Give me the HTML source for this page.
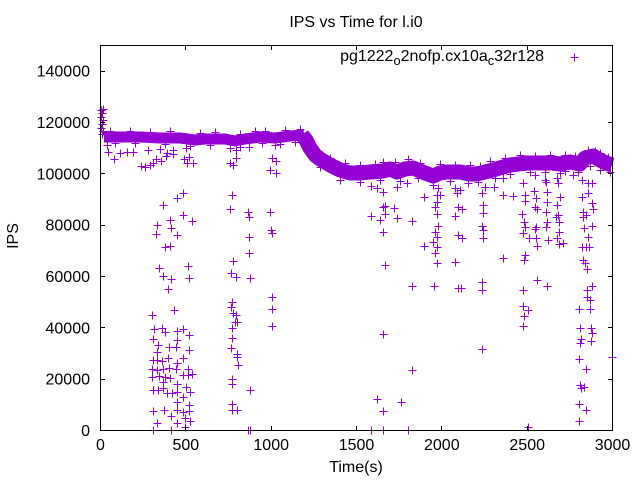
<!DOCTYPE html>
<html>
<head>
<meta charset="utf-8">
<style>
html,body{margin:0;padding:0;background:#fff;}
svg{display:block;}
text{font-family:"Liberation Sans",Arial,sans-serif;fill:#000;}
</style>
</head>
<body>
<svg width="640" height="480" viewBox="0 0 640 480" xmlns="http://www.w3.org/2000/svg">
<rect x="0" y="0" width="640" height="480" fill="#fff"/>

<!-- data band -->
<g fill="none" stroke="#9400d3" stroke-linejoin="round" stroke-linecap="butt">
<polyline stroke-width="11" points="104,137 120,137 140,137 160,138 180,138 195,140 205,139 225,139 235,141 245,139 260,137 275,138 290,136 304,135"/>
<polyline stroke-width="15" points="302,135 306,140 310,148 315,155 320,159 330,165 340,170 350,173 360,173 370,172 383,171 390,169 397,172 405,169 413,168 425,173 433,176 440,173 447,172 460,172 470,174 477,174 485,172 493,170 503,167 510,165 527,163 543,163 552,163 560,164 570,162 580,164 585,158 593,156 600,160 606,163 612,165"/>
</g>

<!-- markers -->
<path fill="none" stroke="#9400d3" stroke-width="1" shape-rendering="crispEdges" transform="translate(0.5,0.5)" d="
M97 110h8m-4-4v8 M99 109h8m-4-4v8 M98 113h8m-4-4v8 M97 117h8m-4-4v8 M99 120h8m-4-4v8 M98 124h8m-4-4v8 M97 128h8m-4-4v8 M99 131h8m-4-4v8 M98 134h8m-4-4v8
M103 145h8m-4-4v8 M104 152h8m-4-4v8 M110 159h8m-4-4v8 M116 153h8m-4-4v8 M123 152h8m-4-4v8 M129 152h8m-4-4v8 M137 166h8m-4-4v8 M141 167h8m-4-4v8 M146 165h8m-4-4v8 M149 163h8m-4-4v8 M152 159h8m-4-4v8 M157 161h8m-4-4v8 M156 149h8m-4-4v8 M162 156h8m-4-4v8 M163 153h8m-4-4v8 M169 154h8m-4-4v8 M169 150h8m-4-4v8 M180 159h8m-4-4v8 M185 157h8m-4-4v8 M183 163h8m-4-4v8 M189 163h8m-4-4v8 M182 148h8m-4-4v8 M144 150h8m-4-4v8
M226 148h8m-4-4v8 M232 150h8m-4-4v8 M232 158h8m-4-4v8 M226 163h8m-4-4v8 M229 165h8m-4-4v8 M245 147h8m-4-4v8 M268 158h8m-4-4v8 M272 161h8m-4-4v8 M266 170h8m-4-4v8 M272 173h8m-4-4v8 M271 145h8m-4-4v8
M179 193h8m-4-4v8 M173 198h8m-4-4v8 M159 205h8m-4-4v8 M179 215h8m-4-4v8 M166 220h8m-4-4v8 M188 221h8m-4-4v8 M153 225h8m-4-4v8 M167 228h8m-4-4v8 M152 234h8m-4-4v8 M173 235h8m-4-4v8 M161 247h8m-4-4v8 M166 246h8m-4-4v8 M155 268h8m-4-4v8 M184 266h8m-4-4v8 M159 276h8m-4-4v8 M167 279h8m-4-4v8 M185 278h8m-4-4v8
M228 195h8m-4-4v8 M226 209h8m-4-4v8 M244 212h8m-4-4v8 M245 217h8m-4-4v8 M266 212h8m-4-4v8 M267 230h8m-4-4v8 M268 233h8m-4-4v8 M245 237h8m-4-4v8 M245 253h8m-4-4v8 M229 261h8m-4-4v8 M227 273h8m-4-4v8 M232 277h8m-4-4v8 M246 278h8m-4-4v8
M164 289h8m-4-4v8 M148 315h8m-4-4v8 M170 310h8m-4-4v8 M150 329h8m-4-4v8 M158 328h8m-4-4v8 M161 332h8m-4-4v8 M173 331h8m-4-4v8 M179 329h8m-4-4v8 M185 335h8m-4-4v8 M149 339h8m-4-4v8 M154 345h8m-4-4v8 M165 347h8m-4-4v8 M172 347h8m-4-4v8 M173 340h8m-4-4v8 M185 350h8m-4-4v8 M179 358h8m-4-4v8 M153 352h8m-4-4v8 M149 360h8m-4-4v8 M153 360h8m-4-4v8 M158 361h8m-4-4v8 M164 358h8m-4-4v8 M173 363h8m-4-4v8
M148 369h8m-4-4v8 M153 370h8m-4-4v8 M159 369h8m-4-4v8 M165 368h8m-4-4v8 M172 369h8m-4-4v8 M184 369h8m-4-4v8 M148 377h8m-4-4v8 M155 376h8m-4-4v8 M161 377h8m-4-4v8 M166 378h8m-4-4v8 M179 375h8m-4-4v8 M184 375h8m-4-4v8 M188 374h8m-4-4v8 M159 382h8m-4-4v8 M173 384h8m-4-4v8
M149 390h8m-4-4v8 M154 390h8m-4-4v8 M159 388h8m-4-4v8 M163 393h8m-4-4v8 M168 393h8m-4-4v8 M173 392h8m-4-4v8 M182 387h8m-4-4v8 M186 392h8m-4-4v8 M179 397h8m-4-4v8 M173 402h8m-4-4v8 M185 405h8m-4-4v8 M149 411h8m-4-4v8 M160 410h8m-4-4v8 M173 410h8m-4-4v8 M179 412h8m-4-4v8 M185 411h8m-4-4v8 M167 416h8m-4-4v8 M181 418h8m-4-4v8 M153 423h8m-4-4v8 M173 423h8m-4-4v8 M186 421h8m-4-4v8 M181 427h8m-4-4v8 M149 430h8m-4-4v8 M167 430h8m-4-4v8
M228 302h8m-4-4v8 M227 307h8m-4-4v8 M229 313h8m-4-4v8 M232 315h8m-4-4v8 M231 322h8m-4-4v8 M233 322h8m-4-4v8 M228 328h8m-4-4v8 M228 338h8m-4-4v8 M227 348h8m-4-4v8 M233 354h8m-4-4v8 M233 357h8m-4-4v8 M234 365h8m-4-4v8 M228 379h8m-4-4v8 M228 384h8m-4-4v8 M246 390h8m-4-4v8 M228 404h8m-4-4v8 M228 410h8m-4-4v8 M233 410h8m-4-4v8 M244 430h8m-4-4v8 M246 430h8m-4-4v8 M268 297h8m-4-4v8 M268 309h8m-4-4v8 M268 326h8m-4-4v8
M367 186h8m-4-4v8 M373 188h8m-4-4v8 M379 192h8m-4-4v8 M393 187h8m-4-4v8 M403 183h8m-4-4v8 M420 197h8m-4-4v8 M379 207h8m-4-4v8 M381 206h8m-4-4v8 M390 208h8m-4-4v8 M367 216h8m-4-4v8 M376 220h8m-4-4v8 M381 214h8m-4-4v8 M393 218h8m-4-4v8 M408 221h8m-4-4v8 M379 232h8m-4-4v8 M420 246h8m-4-4v8 M381 265h8m-4-4v8 M408 286h8m-4-4v8 M430 286h8m-4-4v8 M379 334h8m-4-4v8 M408 370h8m-4-4v8 M373 399h8m-4-4v8 M397 402h8m-4-4v8 M379 411h8m-4-4v8 M367 430h8m-4-4v8 M379 430h8m-4-4v8 M404 430h8m-4-4v8
M433 195h8m-4-4v8 M433 202h8m-4-4v8 M431 207h8m-4-4v8 M433 214h8m-4-4v8 M434 226h8m-4-4v8 M431 232h8m-4-4v8 M433 237h8m-4-4v8 M429 242h8m-4-4v8 M433 247h8m-4-4v8 M431 253h8m-4-4v8 M433 263h8m-4-4v8 M436 195h8m-4-4v8 M434 188h8m-4-4v8 M451 188h8m-4-4v8 M453 193h8m-4-4v8 M451 216h8m-4-4v8 M454 207h8m-4-4v8 M454 235h8m-4-4v8 M451 262h8m-4-4v8 M454 288h8m-4-4v8
M478 193h8m-4-4v8 M479 205h8m-4-4v8 M479 213h8m-4-4v8 M478 226h8m-4-4v8 M479 230h8m-4-4v8 M479 238h8m-4-4v8 M478 282h8m-4-4v8 M478 290h8m-4-4v8 M478 349h8m-4-4v8 M481 187h8m-4-4v8 M456 190h8m-4-4v8 M458 209h8m-4-4v8 M458 238h8m-4-4v8 M457 288h8m-4-4v8
M490 187h8m-4-4v8 M499 195h8m-4-4v8 M509 196h8m-4-4v8 M499 258h8m-4-4v8 M499 178h8m-4-4v8
M519 183h8m-4-4v8 M521 195h8m-4-4v8 M521 201h8m-4-4v8 M518 214h8m-4-4v8 M520 222h8m-4-4v8 M521 227h8m-4-4v8 M519 233h8m-4-4v8 M525 238h8m-4-4v8 M521 255h8m-4-4v8 M520 260h8m-4-4v8 M519 290h8m-4-4v8 M519 306h8m-4-4v8 M524 310h8m-4-4v8 M520 316h8m-4-4v8 M519 326h8m-4-4v8 M524 427h8m-4-4v8
M531 175h8m-4-4v8 M530 191h8m-4-4v8 M532 198h8m-4-4v8 M531 207h8m-4-4v8 M533 209h8m-4-4v8 M531 229h8m-4-4v8 M532 227h8m-4-4v8 M532 238h8m-4-4v8 M533 246h8m-4-4v8 M533 280h8m-4-4v8
M542 182h8m-4-4v8 M543 192h8m-4-4v8 M543 202h8m-4-4v8 M542 212h8m-4-4v8 M543 222h8m-4-4v8 M542 227h8m-4-4v8 M544 240h8m-4-4v8 M543 286h8m-4-4v8 M541 180h8m-4-4v8
M553 178h8m-4-4v8 M554 183h8m-4-4v8 M553 205h8m-4-4v8 M554 215h8m-4-4v8 M552 217h8m-4-4v8 M555 222h8m-4-4v8 M555 232h8m-4-4v8 M553 238h8m-4-4v8 M555 244h8m-4-4v8 M559 243h8m-4-4v8 M556 197h8m-4-4v8 M556 173h8m-4-4v8 M569 175h8m-4-4v8
M578 180h8m-4-4v8 M584 183h8m-4-4v8 M588 183h8m-4-4v8 M578 197h8m-4-4v8 M584 193h8m-4-4v8 M588 203h8m-4-4v8 M579 212h8m-4-4v8 M582 215h8m-4-4v8 M579 217h8m-4-4v8 M589 209h8m-4-4v8 M580 228h8m-4-4v8 M588 226h8m-4-4v8 M584 237h8m-4-4v8 M578 247h8m-4-4v8 M582 247h8m-4-4v8 M585 247h8m-4-4v8 M579 260h8m-4-4v8 M581 263h8m-4-4v8 M583 269h8m-4-4v8 M588 286h8m-4-4v8 M583 290h8m-4-4v8 M583 297h8m-4-4v8 M586 300h8m-4-4v8 M586 309h8m-4-4v8 M575 309h8m-4-4v8 M576 328h8m-4-4v8 M587 328h8m-4-4v8 M588 333h8m-4-4v8 M587 341h8m-4-4v8 M577 339h8m-4-4v8 M576 343h8m-4-4v8 M575 359h8m-4-4v8 M582 369h8m-4-4v8 M576 385h8m-4-4v8 M577 388h8m-4-4v8 M580 387h8m-4-4v8 M575 404h8m-4-4v8 M582 410h8m-4-4v8 M575 421h8m-4-4v8 M608 357h8m-4-4v8
M106 131h8m-4-4v8 M126 131h8m-4-4v8 M146 132h8m-4-4v8 M166 131h8m-4-4v8 M196 133h8m-4-4v8 M211 132h8m-4-4v8 M236 134h8m-4-4v8 M251 131h8m-4-4v8 M261 131h8m-4-4v8 M281 130h8m-4-4v8 M296 129h8m-4-4v8
M111 143h8m-4-4v8 M131 143h8m-4-4v8 M161 144h8m-4-4v8 M186 146h8m-4-4v8 M206 145h8m-4-4v8 M236 147h8m-4-4v8 M258 143h8m-4-4v8 M276 144h8m-4-4v8 M291 142h8m-4-4v8
M326 158h8m-4-4v8 M341 163h8m-4-4v8 M356 165h8m-4-4v8 M371 164h8m-4-4v8 M379 162h8m-4-4v8 M391 162h8m-4-4v8 M404 159h8m-4-4v8 M416 163h8m-4-4v8 M436 164h8m-4-4v8 M451 165h8m-4-4v8
M316 167h8m-4-4v8 M336 180h8m-4-4v8 M356 182h8m-4-4v8 M376 180h8m-4-4v8 M396 181h8m-4-4v8 M414 178h8m-4-4v8 M429 185h8m-4-4v8 M446 181h8m-4-4v8 M464 183h8m-4-4v8
M466 165h8m-4-4v8 M476 166h8m-4-4v8 M486 161h8m-4-4v8 M501 158h8m-4-4v8 M516 155h8m-4-4v8 M531 156h8m-4-4v8 M546 155h8m-4-4v8 M561 155h8m-4-4v8 M571 156h8m-4-4v8 M584 150h8m-4-4v8 M591 151h8m-4-4v8 M596 153h8m-4-4v8 M604 157h8m-4-4v8
M474 182h8m-4-4v8 M491 178h8m-4-4v8 M506 174h8m-4-4v8 M526 172h8m-4-4v8 M541 172h8m-4-4v8 M561 171h8m-4-4v8 M574 172h8m-4-4v8 M586 166h8m-4-4v8 M596 170h8m-4-4v8 M606 172h8m-4-4v8
M570 57h8m-4-4v8
"/>

<!-- border -->
<rect x="100.5" y="45.5" width="512" height="385" fill="none" stroke="#000" stroke-width="1"/>

<!-- ticks -->
<path fill="none" stroke="#000" stroke-width="1" d="
M100 430.5h5 M100 379.5h5 M100 327.5h5 M100 276.5h5 M100 225.5h5 M100 173.5h5 M100 122.5h5 M100 71.5h5
M613 430.5h-5 M613 379.5h-5 M613 327.5h-5 M613 276.5h-5 M613 225.5h-5 M613 173.5h-5 M613 122.5h-5 M613 71.5h-5
M100.5 431v-5 M185.5 431v-5 M271.5 431v-5 M356.5 431v-5 M441.5 431v-5 M527.5 431v-5 M612.5 431v-5
M100.5 45v5 M185.5 45v5 M271.5 45v5 M356.5 45v5 M441.5 45v5 M527.5 45v5 M612.5 45v5
"/>

<!-- y tick labels -->
<g font-size="16" text-anchor="end">
<text x="90" y="436">0</text>
<text x="90" y="384.7">20000</text>
<text x="90" y="333.3">40000</text>
<text x="90" y="282">60000</text>
<text x="90" y="230.7">80000</text>
<text x="90" y="179.3">100000</text>
<text x="90" y="128">120000</text>
<text x="90" y="76.7">140000</text>
</g>

<!-- x tick labels -->
<g font-size="16" text-anchor="middle">
<text x="100.5" y="450">0</text>
<text x="185.8" y="450">500</text>
<text x="271.2" y="450">1000</text>
<text x="356.5" y="450">1500</text>
<text x="441.8" y="450">2000</text>
<text x="527.2" y="450">2500</text>
<text x="612.5" y="450">3000</text>
</g>

<!-- axis labels & title -->
<text x="356" y="472" font-size="16" text-anchor="middle">Time(s)</text>
<text x="0" y="0" font-size="16" text-anchor="middle" transform="translate(18,236) rotate(-90)">IPS</text>
<text x="356" y="27" font-size="16" text-anchor="middle">IPS vs Time for l.i0</text>

<!-- legend -->
<text x="544" y="61" font-size="16" text-anchor="end">pg1222<tspan font-size="12.8" dy="4">o</tspan><tspan dy="-4">2nofp.cx10a</tspan><tspan font-size="12.8" dy="4">c</tspan><tspan dy="-4">32r128</tspan></text>
</svg>
</body>
</html>
